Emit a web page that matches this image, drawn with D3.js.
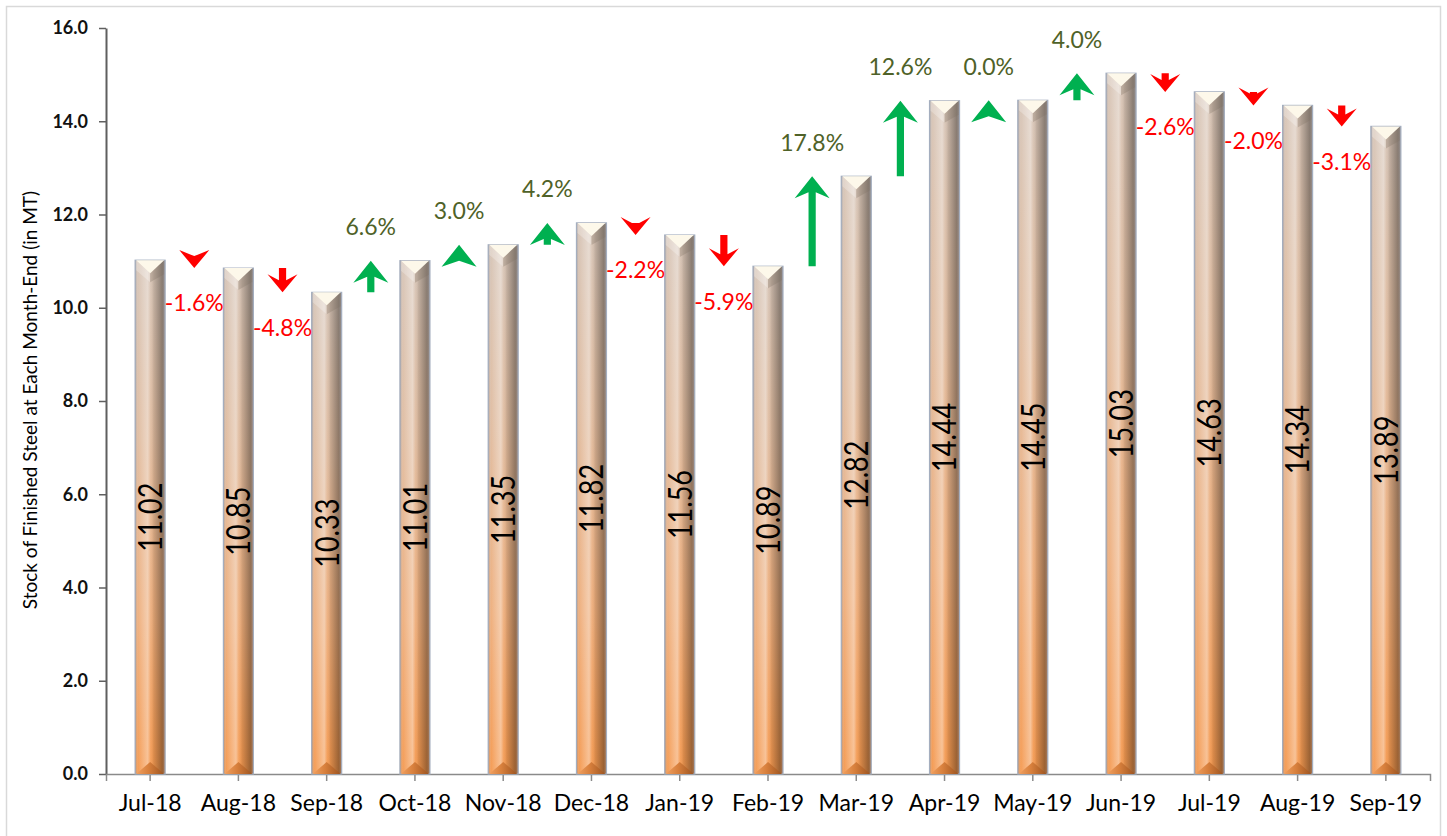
<!DOCTYPE html>
<html>
<head>
<meta charset="utf-8">
<script src="https://cdn.jsdelivr.net/npm/d3@7"></script>
<style>
  html, body { margin: 0; padding: 0; background: #fff; }
  svg { display: block; font-family: Lato, "Open Sans", sans-serif; }
</style>
</head>
<body>
<svg id="chart" width="1447" height="836"></svg>
<script>
"use strict";

const months = ["Jul-18", "Aug-18", "Sep-18", "Oct-18", "Nov-18", "Dec-18", "Jan-19", "Feb-19",
  "Mar-19", "Apr-19", "May-19", "Jun-19", "Jul-19", "Aug-19", "Sep-19"];
const stock = [11.02, 10.85, 10.33, 11.01, 11.35, 11.82, 11.56, 10.89,
  12.82, 14.44, 14.45, 15.03, 14.63, 14.34, 13.89];
const changeLabels = ["-1.6%", "-4.8%", "6.6%", "3.0%", "4.2%", "-2.2%", "-5.9%",
  "17.8%", "12.6%", "0.0%", "4.0%", "-2.6%", "-2.0%", "-3.1%"];
const yTicks = [0, 2, 4, 6, 8, 10, 12, 14, 16];
const yTitle = "Stock of Finished Steel at Each Month-End (in MT)";

let svg = d3.select("#chart"),
  margin = {top: 28, right: 17, bottom: 62, left: 106},
  width = 1447 - margin.left - margin.right,
  height = 836 - margin.top - margin.bottom,
  x = d3.scaleBand().domain(months).range([0, width]).paddingInner(0.66).paddingOuter(0.33),
  y = d3.scaleLinear().domain([0, 16]).range([height, 0]),
  bw = x.bandwidth(),
  defs = svg.append("defs")
;

// outer frame of the chart area
svg.append("rect")
  .attr("x", 6.5).attr("y", 6.5)
  .attr("width", 1434).attr("height", 850)
  .attr("fill", "none")
  .attr("stroke", "#d9d9d9")
  .attr("stroke-width", 1.5);

// bar fills: beige -> orange from top to bottom, plus a cylinder-like shading across
let baseGrad = defs.append("linearGradient")
  .attr("id", "barBase").attr("x1", 0).attr("y1", 0).attr("x2", 0).attr("y2", 1);
[[0, "#d6c4b6"], [0.35, "#e0bb9e"], [0.7, "#eead7a"], [1, "#f4984e"]].forEach(function(s) {
  baseGrad.append("stop").attr("offset", s[0]).attr("stop-color", s[1]);
});

let shadeGrad = defs.append("linearGradient")
  .attr("id", "barShade").attr("x1", 0).attr("y1", 0).attr("x2", 1).attr("y2", 0);
[[0, "#5d6b82", 0.45], [0.1, "#ffffff", 0.05], [0.42, "#ffffff", 0.4], [0.52, "#ffffff", 0.05],
 [0.62, "#000000", 0.1], [0.9, "#000000", 0.36], [1, "#5d6b82", 0.5]].forEach(function(s) {
  shadeGrad.append("stop").attr("offset", s[0]).attr("stop-color", s[1]).attr("stop-opacity", s[2]);
});

let bottomGrad = defs.append("linearGradient")
  .attr("id", "barBottom").attr("x1", 0).attr("y1", 0).attr("x2", 1).attr("y2", 0);
[[0, "#f0a060"], [0.45, "#d77f3c"], [1, "#9c5420"]].forEach(function(s) {
  bottomGrad.append("stop").attr("offset", s[0]).attr("stop-color", s[1]);
});

let g = svg.append("g").attr("transform", "translate(" + margin.left + "," + margin.top + ")");

// y axis
g.append("g")
  .attr("class", "y-axis")
  .call(d3.axisLeft(y).tickValues(yTicks).tickFormat(d3.format(".1f")).tickSize(7).tickSizeOuter(0).tickPadding(11))
  .call(function(a) {
    a.select(".domain").attr("stroke", "#5f5f5f").attr("stroke-width", 2);
    a.selectAll(".tick line").attr("stroke", "#5f5f5f").attr("stroke-width", 1.5);
    a.selectAll("text").attr("font-size", 18).attr("font-weight", "bold").attr("fill", "#111")
      .attr("font-family", "Lato, sans-serif");
  });

// x axis
g.append("g")
  .attr("class", "x-axis")
  .attr("transform", "translate(0," + height + ")")
  .call(d3.axisBottom(x).tickSize(7).tickSizeOuter(7).tickPadding(14))
  .call(function(a) {
    a.select(".domain").attr("stroke", "#8a8a8a").attr("stroke-width", 1.5);
    a.selectAll(".tick line").attr("stroke", "#8a8a8a").attr("stroke-width", 1.5);
    a.selectAll("text").attr("font-size", 23).attr("fill", "#000")
      .attr("font-family", "Lato, sans-serif");
  });

svg.append("text")
  .attr("transform", "translate(30,400) rotate(-90)")
  .attr("text-anchor", "middle")
  .attr("dy", "0.35em")
  .attr("font-size", 19)
  .attr("fill", "#000")
  .text(yTitle);

// bars
let bars = g.selectAll(".bar")
  .data(stock)
  .enter().append("g")
    .attr("class", "bar")
    .attr("transform", function(d, i) { return "translate(" + x(months[i]) + ",0)"; });

bars.append("rect")
  .attr("y", function(d) { return y(d); })
  .attr("width", bw)
  .attr("height", function(d) { return height - y(d); })
  .attr("fill", "url(#barBase)");

bars.append("rect")
  .attr("y", function(d) { return y(d); })
  .attr("width", bw)
  .attr("height", function(d) { return height - y(d); })
  .attr("fill", "url(#barShade)")
  .attr("stroke", "#a4aebf")
  .attr("stroke-width", 1.2);

// top bevel facets
bars.append("path")
  .attr("d", function(d) {
    let t = y(d);
    return "M1," + t + "L" + (bw / 2) + "," + (t + 13) + "L" + (bw / 2) + "," + (t + 22) + "L1," + (t + 10) + "Z";
  })
  .attr("fill", "#ffffff").attr("opacity", 0.25);

bars.append("path")
  .attr("d", function(d) {
    let t = y(d);
    return "M" + (bw / 2) + "," + (t + 13) + "L" + (bw - 1) + "," + t + "L" + (bw - 1) + "," + (t + 14) + "L" + (bw / 2) + "," + (t + 22) + "Z";
  })
  .attr("fill", "#7f7264").attr("opacity", 0.3);

bars.append("path")
  .attr("d", function(d) {
    let t = y(d);
    return "M1," + t + "L" + (bw - 1) + "," + t + "L" + (bw / 2) + "," + (t + 13) + "Z";
  })
  .attr("fill", "#fdf8ea");

// bottom bevel
bars.append("path")
  .attr("d", function() {
    return "M1," + height + "L" + (bw - 1) + "," + height + "L" + (bw / 2) + "," + (height - 12) + "Z";
  })
  .attr("fill", "url(#barBottom)");

// value labels inside bars
bars.append("text")
  .attr("transform", function(d) {
    return "translate(" + (bw / 2) + "," + ((y(d) + height) / 2) + ") rotate(-90) scale(0.82,1)";
  })
  .attr("text-anchor", "middle")
  .attr("dy", "0.36em")
  .attr("font-size", 33)
  .attr("fill", "#000")
  .text(function(d) { return d3.format(".2f")(d); });

// month-on-month change arrows between bars
let changes = d3.pairs(stock).map(function(p, i) {
  return {
    from: p[0],
    to: p[1],
    label: changeLabels[i],
    cx: (x(months[i]) + x(months[i + 1])) / 2 + bw / 2
  };
});

function arrowPath(c) {
  let up = c.to >= c.from,
    dir = up ? 1 : -1,
    L = up ? 22 : 18,
    W = up ? 17.5 : 15,
    s = 3.6,
    yTip = y(c.to),
    yTail = y(c.from),
    base = yTip + dir * L,
    notch = yTip + dir * (L - 6),
    pts = [[c.cx, yTip], [c.cx + W, base]];
  if ((yTail - notch) * dir > 0) {
    pts.push([c.cx + s, notch], [c.cx + s, yTail], [c.cx - s, yTail], [c.cx - s, notch]);
  } else {
    pts.push([c.cx, notch]);
  }
  pts.push([c.cx - W, base]);
  return "M" + pts.map(function(p) { return p[0] + "," + p[1]; }).join("L") + "Z";
}

let arrows = g.selectAll(".change")
  .data(changes)
  .enter().append("g")
    .attr("class", "change");

arrows.append("path")
  .attr("d", arrowPath)
  .attr("fill", function(d) { return d.to >= d.from ? "#00b050" : "#ff0000"; });

arrows.append("text")
  .attr("x", function(d) { return d.cx; })
  .attr("y", function(d) { return d.to >= d.from ? y(d.to) - 34 : y(d.to) + 35; })
  .attr("dy", "0.36em")
  .attr("text-anchor", "middle")
  .attr("font-size", 23)
  .attr("fill", function(d) { return d.to >= d.from ? "#4f6228" : "#ff0000"; })
  .text(function(d) { return d.label; });
</script>
</body>
</html>
